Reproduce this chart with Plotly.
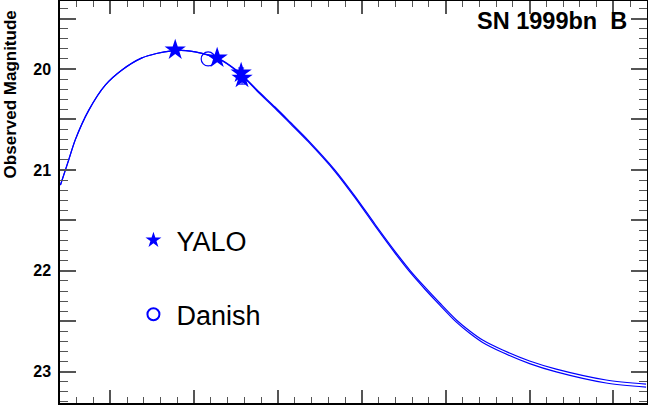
import plotly.graph_objects as go

# model light curves (days, magnitude)
curve_days = [-5.95, -4.96, -4.17, -2.58, -0.6, 1.39, 3.77, 5.5, 7.35, 9.0, 10.12, 12.74, 14.29,
              15.71, 17.5, 19.64, 21.43, 23.57, 26.79, 29.17, 31.55, 33.93, 35.71, 37.5, 39.29,
              41.27, 42.86, 44.4, 46.79, 50.0, 53.18, 59.13, 63.89]
curve_mag_a = [21.15, 20.90, 20.70, 20.41, 20.16, 20.01, 19.89, 19.846, 19.82, 19.817, 19.83,
               19.89, 19.965, 20.059, 20.208, 20.377, 20.525, 20.704, 21.001, 21.259, 21.536,
               21.804, 21.992, 22.16, 22.319, 22.487, 22.596, 22.686, 22.785, 22.894, 22.974,
               23.082, 23.122]
curve_mag_b = [21.15, 20.90, 20.70, 20.41, 20.16, 20.01, 19.89, 19.846, 19.82, 19.817, 19.83,
               19.893, 19.97, 20.066, 20.218, 20.389, 20.538, 20.718, 21.016, 21.275, 21.553,
               21.822, 22.011, 22.18, 22.34, 22.509, 22.619, 22.71, 22.81, 22.92, 23.002,
               23.112, 23.152]

# photometry
yalo_days = [7.74, 12.74, 15.6, 15.71]
yalo_mag = [19.81, 19.89, 20.04, 20.09]
yalo_err = [0.01, 0.01, 0.05, 0.06]
danish_days = [11.67]
danish_mag = [19.90]

blue = "#0000ff"
fig = go.Figure()
for mags in (curve_mag_a, curve_mag_b):
    fig.add_trace(go.Scatter(x=curve_days, y=mags, mode="lines", showlegend=False,
                             line=dict(color=blue, width=1.2, shape="spline", smoothing=0.8)))

fig.add_trace(go.Scatter(x=yalo_days, y=yalo_mag, mode="markers", name="YALO", legendgroup="a",
                         marker=dict(symbol="star", size=16, color=blue),
                         error_y=dict(type="data", array=yalo_err, color=blue, thickness=1, width=3)))
fig.add_trace(go.Scatter(x=danish_days, y=danish_mag, mode="markers", name="Danish", legendgroup="b",
                         marker=dict(symbol="circle-open", size=14, color=blue, line=dict(width=1.2))))

fig.add_annotation(text="SN 1999bn\u00a0\u00a0B", xref="paper", yref="paper", x=0.97, y=0.95,
                   xanchor="right", yanchor="middle", showarrow=False,
                   font=dict(family="Liberation Sans", size=23.5, color="black", weight="bold"))
fig.add_annotation(text="Observed Magnitude", xref="paper", yref="paper", x=-0.084, y=0.553,
                   xanchor="center", yanchor="bottom", textangle=-90, showarrow=False,
                   font=dict(family="Liberation Sans", size=17, color="black", weight="bold"))

fig.update_xaxes(range=[-6, 64], showticklabels=False, ticks="inside", dtick=10, tick0=0,
                 ticklen=13, tickwidth=1.5, tickcolor="#555", showgrid=False, zeroline=False,
                 showline=True, linecolor="black", linewidth=1.5, mirror="allticks",
                 automargin=False,
                 minor=dict(dtick=2, ticks="inside", ticklen=6, tickwidth=1.2, tickcolor="#555"))
fig.update_yaxes(range=[23.31, 19.326], tickmode="linear", tick0=20, dtick=0.5, ticklabelstep=2,
                 ticks="inside", ticklen=16, tickwidth=1.5, tickcolor="#555", showgrid=False,
                 zeroline=False, showline=True, linecolor="black", linewidth=1.5,
                 mirror="allticks", automargin=False, ticklabelstandoff=4,
                 tickfont=dict(family="Liberation Sans", size=16, color="black", weight="bold"),
                 minor=dict(dtick=0.1, ticks="inside", ticklen=8, tickwidth=1.2,
                            tickcolor="#555"))

fig.update_layout(width=648, height=405, margin=dict(l=60, r=1, t=1, b=2),
                  paper_bgcolor="white", plot_bgcolor="white",
                  legend=dict(x=0.12, y=0.465, xanchor="left", yanchor="top", itemwidth=36,
                              itemsizing="constant",
                              font=dict(family="Liberation Sans", size=27, color="black"),
                              tracegroupgap=36, bgcolor="rgba(0,0,0,0)"))

# the page body has a default 8px margin; drop it so the figure sits at the window corner
fig.write_html("out.html", config={"displayModeBar": False},
               post_script="document.body.style.margin='0px';")
